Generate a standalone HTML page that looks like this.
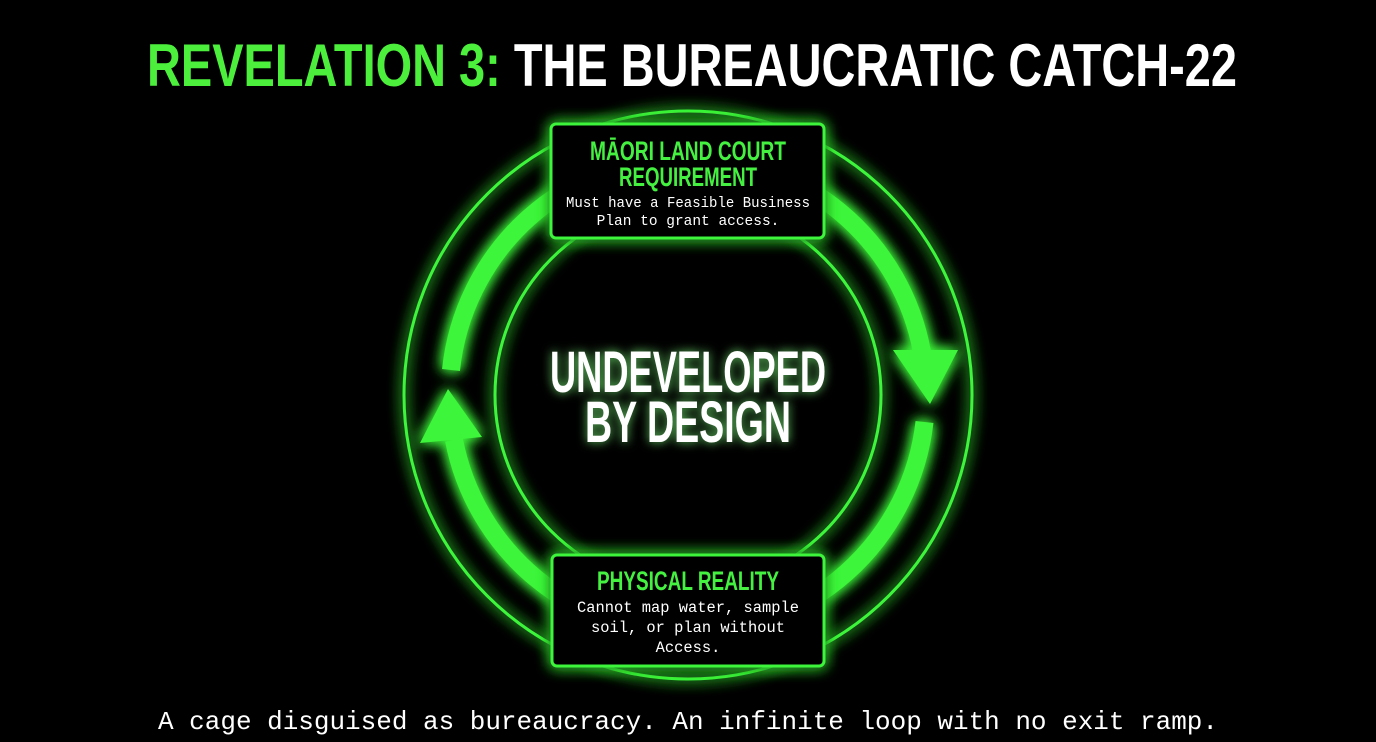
<!DOCTYPE html>
<html><head><meta charset="utf-8"><style>
html,body{margin:0;padding:0;background:#000;width:1376px;height:742px;overflow:hidden}
svg{display:block}
</style></head><body>
<svg width="1376" height="742" viewBox="0 0 1376 742" xmlns="http://www.w3.org/2000/svg">
<defs>
<filter id="g" x="-30%" y="-30%" width="160%" height="160%">
<feGaussianBlur stdDeviation="7" result="b"/>
<feMerge><feMergeNode in="b"/><feMergeNode in="b"/><feMergeNode in="SourceGraphic"/></feMerge>
</filter>
<filter id="gt" x="-20%" y="-50%" width="140%" height="200%">
<feGaussianBlur stdDeviation="5" result="b"/>
<feColorMatrix in="b" type="matrix" values="0 0 0 0 0.2  0 0 0 0 1  0 0 0 0 0.2  0 0 0 0.8 0" result="c"/>
<feMerge><feMergeNode in="c"/><feMergeNode in="SourceGraphic"/></feMerge>
</filter>
</defs>
<rect width="1376" height="742" fill="#000"/>
<text x="692" y="86" text-anchor="middle" font-family="'Liberation Sans Narrow','Liberation Sans',sans-serif" font-weight="bold" font-size="60" textLength="1090" lengthAdjust="spacingAndGlyphs"><tspan fill="#4cf03c">REVELATION 3: </tspan><tspan fill="#fff">THE BUREAUCRATIC CATCH-22</tspan></text>

<g filter="url(#g)" fill="none" stroke="#3ef53a">
<circle cx="688" cy="395" r="284" stroke-width="3"/>
<circle cx="688" cy="395" r="193" stroke-width="3"/>
<path d="M688 157 A238 238 0 0 1 922 352" stroke-width="18"/>
<path d="M924.5 422 A238 238 0 0 1 688 633" stroke-width="18"/>
<path d="M688 633 A238 238 0 0 1 454 440" stroke-width="18"/>
<path d="M451 370 A238 238 0 0 1 688 157" stroke-width="18"/>
<polygon points="893,350 958,350 930,404" fill="#3ef53a" stroke="none"/>
<polygon points="420,443 482,437 448,389" fill="#3ef53a" stroke="none"/>
</g>

<g filter="url(#g)">
<rect x="551" y="124" width="273" height="114" rx="5" fill="#000" stroke="#3ef53a" stroke-width="3"/>
<rect x="552" y="555" width="272" height="111" rx="5" fill="#000" stroke="#3ef53a" stroke-width="3"/>
</g>

<g font-family="'Liberation Sans Narrow','Liberation Sans',sans-serif" font-weight="bold" fill="#44f040" text-anchor="middle">
<text x="688" y="160" font-size="27" textLength="196" lengthAdjust="spacingAndGlyphs">MĀORI LAND COURT</text>
<text x="688" y="186" font-size="27" textLength="138" lengthAdjust="spacingAndGlyphs">REQUIREMENT</text>
<text x="688" y="590" font-size="27" textLength="182" lengthAdjust="spacingAndGlyphs">PHYSICAL REALITY</text>
</g>
<g font-family="'Liberation Mono',monospace" fill="#fff" text-anchor="middle" font-size="14.5">
<text x="688" y="207" textLength="244" lengthAdjust="spacingAndGlyphs">Must have a Feasible Business</text>
<text x="688" y="225">Plan to grant access.</text>
<text x="688" y="612" font-size="15.4" textLength="222" lengthAdjust="spacingAndGlyphs">Cannot map water, sample</text>
<text x="688" y="632" font-size="15.4">soil, or plan without</text>
<text x="688" y="652" font-size="15.4">Access.</text>
</g>

<g filter="url(#gt)" font-family="'Liberation Sans Narrow','Liberation Sans',sans-serif" font-weight="bold" fill="#fff" text-anchor="middle" font-size="58">
<text x="688" y="392" textLength="276" lengthAdjust="spacingAndGlyphs">UNDEVELOPED</text>
<text x="688" y="442" textLength="206" lengthAdjust="spacingAndGlyphs">BY DESIGN</text>
</g>

<text x="688" y="729" text-anchor="middle" font-family="'Liberation Mono',monospace" font-size="26" fill="#fff" textLength="1060" lengthAdjust="spacingAndGlyphs">A cage disguised as bureaucracy. An infinite loop with no exit ramp.</text>
</svg>
</body></html>
